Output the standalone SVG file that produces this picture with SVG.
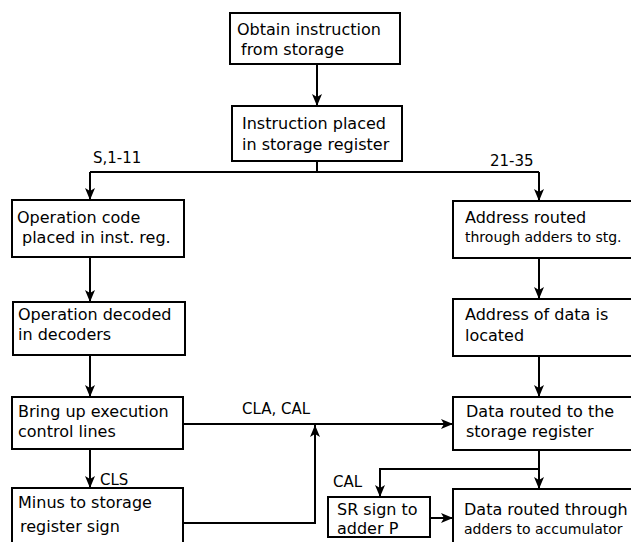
<svg xmlns="http://www.w3.org/2000/svg" width="631" height="542" viewBox="0 0 631 542">
  <defs>
    <marker id="arrow" viewBox="0 0 12 10" refX="12" refY="5" markerWidth="12" markerHeight="10" markerUnits="userSpaceOnUse" orient="auto">
      <path d="M0,0 L12,5 L0,10 L3,5 Z" fill="#000"/>
    </marker>
    <style>
      .box { fill: #fff; stroke: #000; stroke-width: 2; }
      .txt { font-family: "DejaVu Sans", "Liberation Sans", sans-serif; font-size: 16px; fill: #000; }
      .sm { font-size: 14px; }
      .lbl { font-family: "DejaVu Sans", "Liberation Sans", sans-serif; font-size: 15px; fill: #000; }
      .line { fill: none; stroke: #000; stroke-width: 2; }
      .arr { fill: none; stroke: #000; stroke-width: 2; marker-end: url(#arrow); }
    </style>
  </defs>
  <rect width="631" height="542" fill="#fff"/>

  <!-- connectors -->
  <g id="connectors">
    <path class="arr" d="M317,64 V106"/>
    <path class="line" d="M317,161 V172 M90,172 H539"/>
    <path class="arr" d="M90,172 V200"/>
    <path class="arr" d="M539,172 V201"/>
    <path class="arr" d="M90,257 V302"/>
    <path class="arr" d="M90,355 V397"/>
    <path class="arr" d="M90,449 V488"/>
    <path class="arr" d="M183,424 H453"/>
    <path class="arr" d="M183,523 H315 V425"/>
    <path class="arr" d="M539,258 V299"/>
    <path class="arr" d="M539,356 V397"/>
    <path class="arr" d="M539,450 V489"/>
    <path class="arr" d="M539,469 H380 V497"/>
    <path class="arr" d="M430,518 H453"/>
    <text class="lbl" x="93" y="163">S,1-11</text>
    <text class="lbl" x="490" y="166">21-35</text>
    <text class="lbl" x="242" y="414">CLA, CAL</text>
    <text class="lbl" x="100" y="485">CLS</text>
    <text class="lbl" x="333" y="487">CAL</text>
  </g>

  <g id="obtain">
    <rect class="box" x="230" y="13" width="170" height="51"/>
    <text class="txt" x="237" y="35">Obtain instruction</text>
    <text class="txt" x="241" y="55">from storage</text>
  </g>
  <g id="placed">
    <rect class="box" x="232" y="106" width="170" height="55"/>
    <text class="txt" x="242" y="129">Instruction placed</text>
    <text class="txt" x="242" y="150">in storage register</text>
  </g>
  <g id="opcode">
    <rect class="box" x="12" y="200" width="172" height="57"/>
    <text class="txt" x="17" y="223">Operation code</text>
    <text class="txt" x="22" y="243">placed in inst. reg.</text>
  </g>
  <g id="decoded">
    <rect class="box" x="13" y="302" width="172" height="53"/>
    <text class="txt" x="18" y="320">Operation decoded</text>
    <text class="txt" x="18" y="340">in decoders</text>
  </g>
  <g id="execution">
    <rect class="box" x="12" y="397" width="171" height="52"/>
    <text class="txt" x="18" y="417">Bring up execution</text>
    <text class="txt" x="18" y="437">control lines</text>
  </g>
  <g id="minus">
    <rect class="box" x="12" y="488" width="171" height="80"/>
    <text class="txt" x="18" y="508">Minus to storage</text>
    <text class="txt" x="20" y="532">register sign</text>
  </g>
  <g id="address">
    <rect class="box" x="453" y="201" width="200" height="57"/>
    <text class="txt" x="465" y="223">Address routed</text>
    <text class="txt sm" x="465" y="242">through adders to stg.</text>
  </g>
  <g id="located">
    <rect class="box" x="453" y="299" width="200" height="57"/>
    <text class="txt" x="465" y="320">Address of data is</text>
    <text class="txt" x="465" y="341">located</text>
  </g>
  <g id="data-sr">
    <rect class="box" x="453" y="397" width="200" height="53"/>
    <text class="txt" x="466" y="417">Data routed to the</text>
    <text class="txt" x="466" y="437">storage register</text>
  </g>
  <g id="data-acc">
    <rect class="box" x="453" y="489" width="200" height="80"/>
    <text class="txt" x="464" y="515">Data routed through</text>
    <text class="txt sm" x="464" y="534">adders to accumulator</text>
  </g>
  <g id="sr-sign">
    <rect class="box" x="328" y="497" width="102" height="40"/>
    <text class="txt" x="337" y="515">SR sign to</text>
    <text class="txt" x="337" y="534">adder P</text>
  </g>
</svg>
